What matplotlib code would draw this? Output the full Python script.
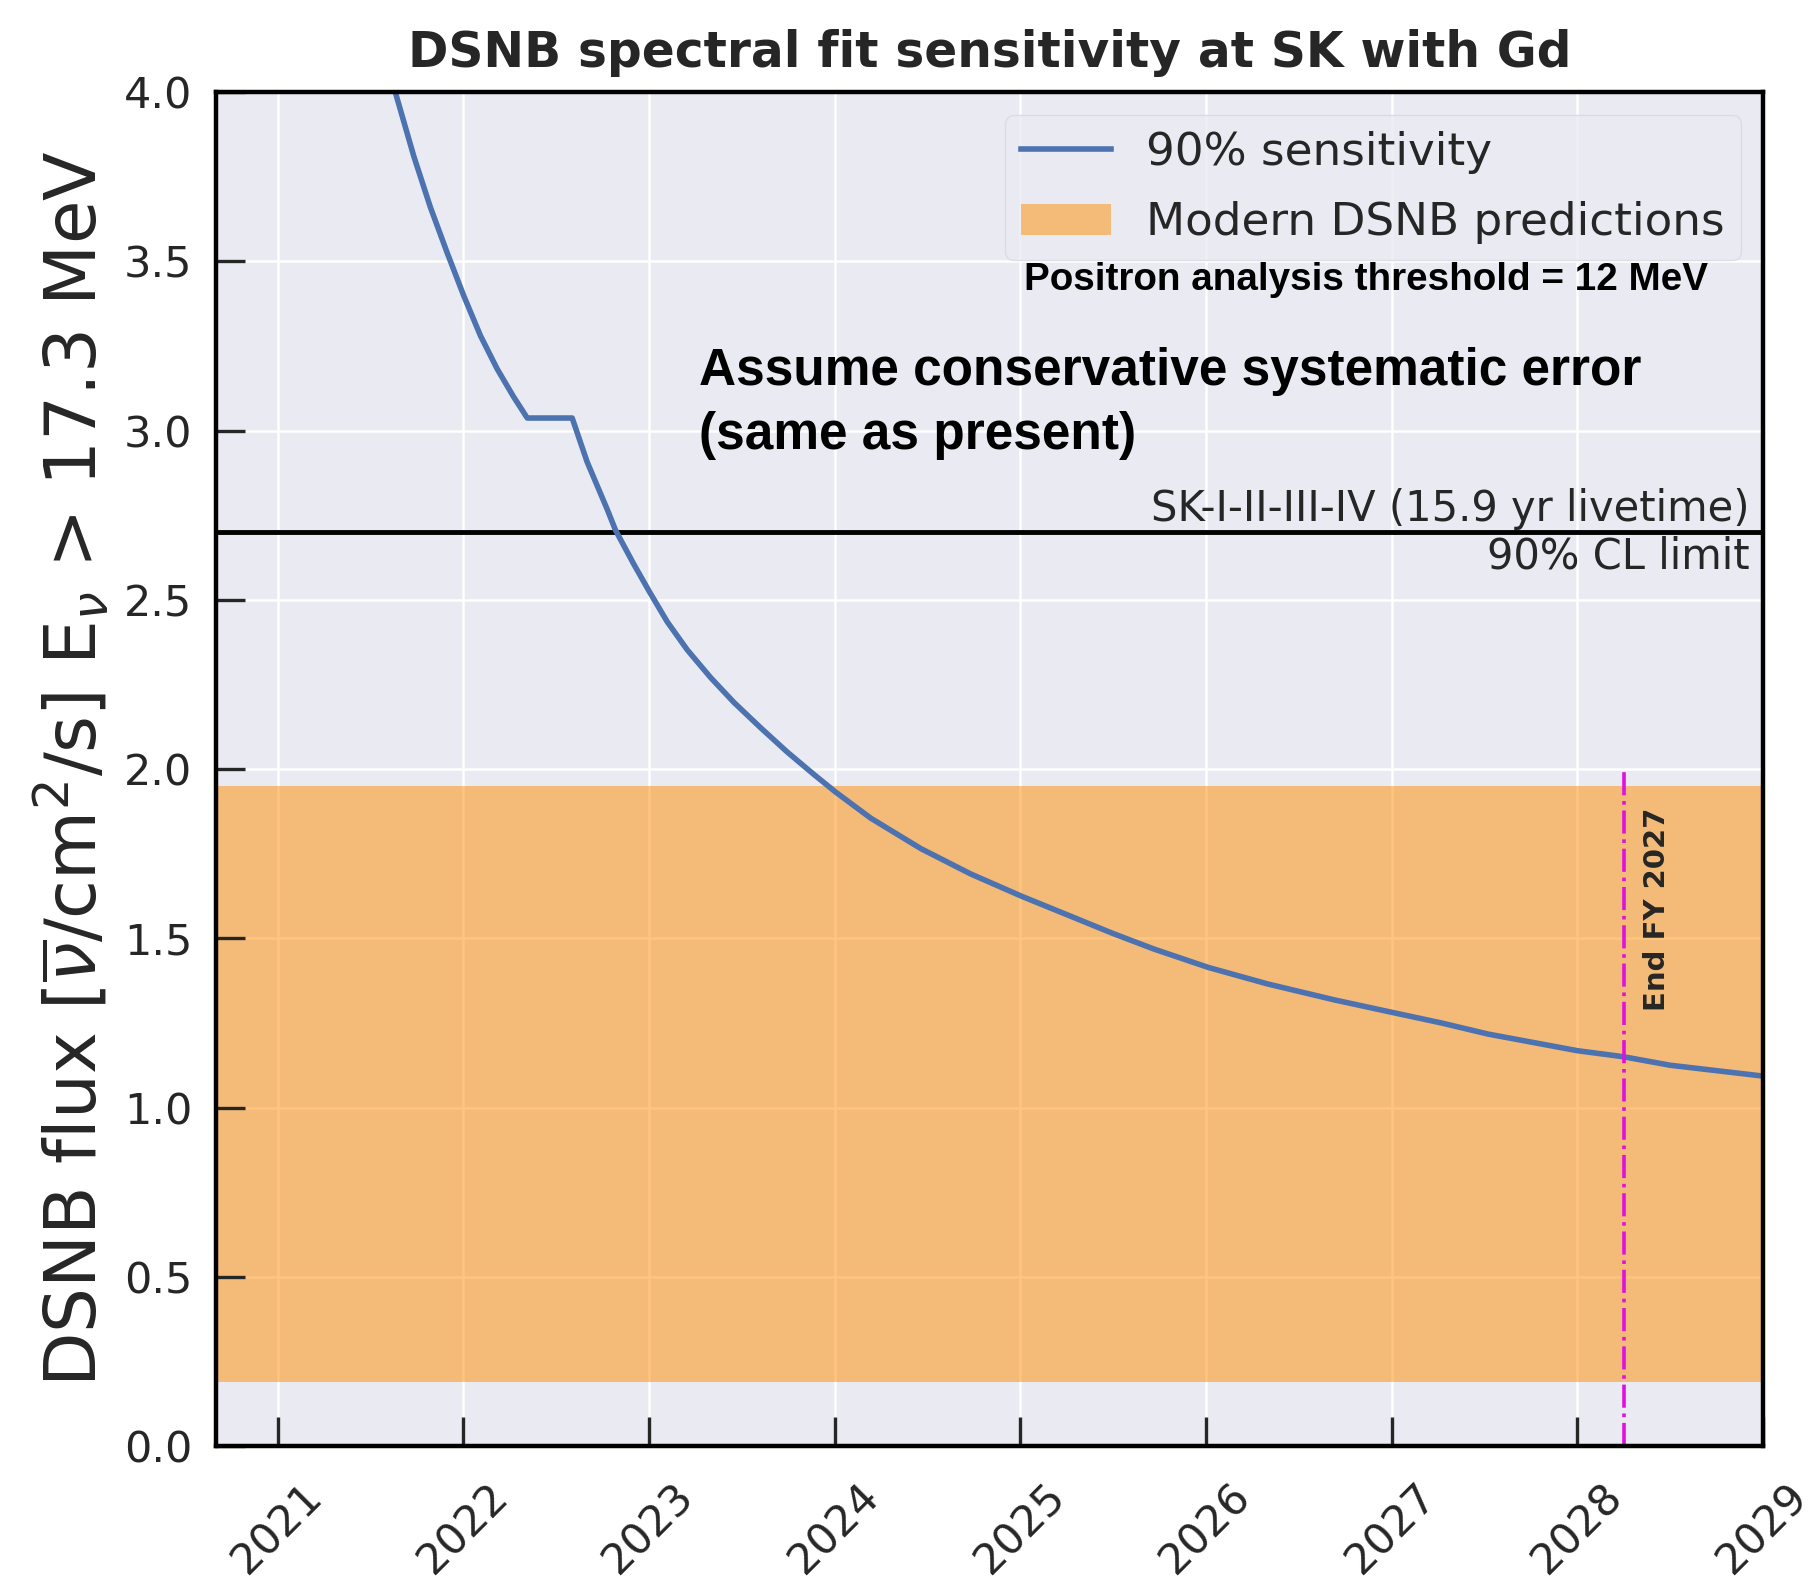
import numpy as np
import matplotlib
matplotlib.use('Agg')
import matplotlib.pyplot as plt
from matplotlib.patches import Patch
from matplotlib.lines import Line2D


# 90% sensitivity curve (year, flux)
years = [2021.633, 2021.733, 2021.822, 2021.912, 2022.002, 2022.092, 2022.182,
         2022.27, 2022.344, 2022.586, 2022.666, 2022.774, 2022.82, 2022.918,
         2023.004, 2023.098, 2023.206, 2023.332, 2023.457, 2023.601, 2023.745,
         2023.888, 2024.005, 2024.194, 2024.464, 2024.733, 2025.008, 2025.272,
         2025.5, 2025.721, 2026.012, 2026.333, 2026.692, 2027.012, 2027.267,
         2027.52, 2028.0, 2028.25, 2028.5, 2029.0]
sensitivity = [4.0, 3.81, 3.66, 3.526, 3.398, 3.28, 3.182,
               3.10, 3.037, 3.037, 2.908, 2.768, 2.705, 2.605,
               2.522, 2.435, 2.352, 2.270, 2.197, 2.122, 2.050,
               1.984, 1.932, 1.855, 1.765, 1.690, 1.624, 1.565,
               1.514, 1.468, 1.414, 1.365, 1.318, 1.280, 1.250,
               1.217, 1.168, 1.150, 1.125, 1.093]

# modern predictions band, current limit, end of FY2027
band = (0.19, 1.95)
sk_limit = 2.7
end_fy = 2028.25
xticks = [2021, 2022, 2023, 2024, 2025, 2026, 2027, 2028, 2029]
yticks = [0.0, 0.5, 1.0, 1.5, 2.0, 2.5, 3.0, 3.5, 4.0]

dark = '#262626'

fig = plt.figure(figsize=(18.1, 15.79), dpi=100)
ax = fig.add_axes([0.1193, 0.0842, 0.8547, 0.8575])
ax.set_facecolor('#EAEAF2')
ax.grid(False)
ax.set_axisbelow(False)

# grid drawn by hand so it stays under the band while the ticks stay on top
for x in xticks:
    ax.axvline(x, color='white', lw=1.8, zorder=0.5)
for y in yticks:
    ax.axhline(y, color='white', lw=1.8, zorder=0.5)

ax.axhspan(band[0], band[1], color='darkorange', alpha=0.5, lw=0, zorder=1)
ax.plot(years, sensitivity, color='#4C72B0', lw=4, zorder=3)
ax.axhline(sk_limit, color='black', lw=3.5, zorder=2)
ax.plot([end_fy, end_fy], [0, 2.0], color='#E010E0', lw=2.6, ls='-.', zorder=4)

ax.set_xlim(2020.667, 2029)
ax.set_ylim(0, 4.0)
ax.set_xticks(xticks)
ax.set_yticks(yticks)
ax.set_xticklabels([str(x) for x in xticks], rotation=45, fontsize=31, color=dark)
ax.set_yticklabels(['%.1f' % y for y in yticks], fontsize=31, color=dark)
ax.tick_params(axis='both', direction='in', length=21, width=2.4, color=dark)
ax.tick_params(axis='y', pad=17)
ax.tick_params(axis='x', pad=21)

for s in ax.spines.values():
    s.set_color('black')
    s.set_linewidth(3.2)
    s.set_zorder(5)

ax.set_title('DSNB spectral fit sensitivity at SK with Gd', fontsize=35,
             fontweight='bold', color=dark, pad=18)
ax.set_ylabel(r'DSNB flux [$\overline{\nu}$/cm$^2$/s] E$_\nu$ > 17.3 MeV',
              fontsize=51, color=dark, labelpad=8)

# annotations
ax.text(2028.93, 2.705, 'SK-I-II-III-IV (15.9 yr livetime)', ha='right', va='bottom',
        fontsize=30, color=dark)
ax.text(2028.93, 2.69, '90% CL limit', ha='right', va='top', fontsize=30, color=dark)
ax.text(2023.27, 3.08, 'Assume conservative systematic error\n(same as present)',
        ha='left', va='center', fontsize=37, fontweight='bold', color='black',
        family='Liberation Sans', linespacing=1.37)
ax.text(2026.86, 3.446, 'Positron analysis threshold = 12 MeV', ha='center', va='center',
        fontsize=27.8, fontweight='bold', color='black', family='Liberation Sans')
ax.text(2028.43, 1.585, 'End FY 2027', rotation=90, ha='center', va='center',
        fontsize=21, fontweight='bold', color=dark)

handles = [Line2D([0], [0], color='#4C72B0', lw=4),
           Patch(facecolor='darkorange', alpha=0.5, lw=0)]
leg = ax.legend(handles, ['90% sensitivity', 'Modern DSNB predictions'], loc='upper right',
                fontsize=32.6, frameon=True, handlelength=2.0, handletextpad=0.77,
                borderpad=0.35, labelspacing=0.6, borderaxespad=0,
                bbox_to_anchor=(0.9856, 0.9827))
leg.get_frame().set_facecolor('#EAEAF2')
leg.get_frame().set_edgecolor('#D8D8E0')
for t in leg.get_texts():
    t.set_color(dark)

fig.savefig('out.png', dpi=100)
